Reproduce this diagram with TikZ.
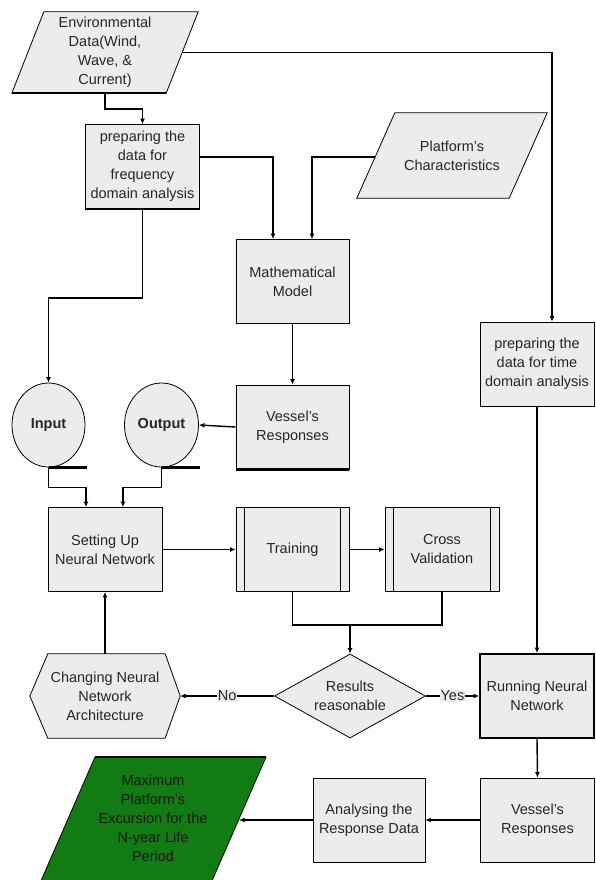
\documentclass[tikz,border=0pt]{standalone}
\usepackage{fontspec}
\setmainfont{Liberation Sans}
\usetikzlibrary{shapes.geometric,arrows.meta,calc,backgrounds}
\definecolor{boxgray}{HTML}{ECECEC}
\definecolor{paragreen}{HTML}{137B13}
\begin{document}
\begin{tikzpicture}[x=1pt,y=-1pt,
  txt/.style={font=\fontsize{14.5}{19}\selectfont, align=center, text=black!85},
  box/.style={txt, draw, line width=0.8pt, fill=boxgray, inner sep=0pt, minimum width=114, minimum height=84},
  holder/.style={txt, inner sep=0pt},
  shapeline/.style={draw, line width=0.8pt, fill=boxgray},
  heavy/.style={line width=2.6pt},
  conn/.style={line width=1.4pt, -{Latex[length=5.5pt,width=5pt]}},
  plain/.style={line width=1.4pt},
  lab/.style={txt, fill=boxgray, inner sep=1pt}]
\useasboundingbox (0,0) rectangle (596,880);
\clip (0,0) rectangle (596,880);
\begin{scope}[on background layer]
\fill[white] (0,0) rectangle (596,880);
\end{scope}

% Environmental data (parallelogram)
\node[holder, minimum width=186, minimum height=81] (env) at (105,52.5) {Environmental\\Data(Wind,\\Wave, \&\\Current)};
\begin{scope}[on background layer]
\draw[shapeline] ($(env.north west)+(32,0)$) -- (env.north east) -- ($(env.south east)+(-32,0)$) -- (env.south west) -- cycle;
\end{scope}
\draw[heavy] (env.south west) -- ($(env.south east)+(-32,0)$);

% preparing frequency
\node[box] (prepF) at (142.5,166.5) {preparing the\\data for\\frequency\\domain analysis};
\draw[heavy] (prepF.south west) -- (prepF.south east);

% Platform's characteristics
\node[holder, minimum width=190, minimum height=85] (plat) at (452,155.5) {Platform's\\Characteristics};
\begin{scope}[on background layer]
\draw[shapeline] ($(plat.north west)+(38,0)$) -- (plat.north east) -- ($(plat.south east)+(-38,0)$) -- (plat.south west) -- cycle;
\end{scope}

% Mathematical model
\node[box, minimum width=113] (math) at (292.5,281.5) {Mathematical\\Model};
% Vessel's responses 1
\node[box, minimum width=113] (ves1) at (292.5,427) {Vessel's\\Responses};
\draw[heavy] (ves1.south west) -- (ves1.south east);

% preparing time
\node[box] (prepT) at (537,364) {preparing the\\data for time\\domain analysis};

% Input / Output tapes
\node[txt, ellipse, shapeline, inner sep=0pt, minimum width=73, minimum height=84] (in) at (48.5,425) {\bfseries Input};
\draw[heavy] (in.south) -- ++(38,0);
\node[txt, ellipse, shapeline, inner sep=0pt, minimum width=74, minimum height=84] (out) at (161.5,425) {\bfseries Output};
\draw[heavy] (out.south) -- ++(38,0);

% Setting up, training, cross validation
\node[box] (setup) at (105,549.5) {Setting Up\\Neural Network};
\node[box, minimum width=113] (train) at (292.5,549.5) {Training};
\draw[line width=0.8pt] ($(train.north west)+(9,0)$) -- ($(train.south west)+(9,0)$);
\draw[line width=0.8pt] ($(train.north east)+(-9,0)$) -- ($(train.south east)+(-9,0)$);
\node[box] (cross) at (442,549.5) {Cross\\Validation};
\draw[line width=0.8pt] ($(cross.north west)+(9,0)$) -- ($(cross.south west)+(9,0)$);
\draw[line width=0.8pt] ($(cross.north east)+(-9,0)$) -- ($(cross.south east)+(-9,0)$);

% Decision
\node[diamond, shapeline, inner sep=0pt, minimum width=151, minimum height=84] (dec) at (350,696) {};
\node[holder] (decl) at (dec.center) {Results\\reasonable};

% Hexagon
\node[holder, minimum width=150, minimum height=84] (hex) at (105,696) {Changing Neural\\Network\\Architecture};
\begin{scope}[on background layer]
\draw[shapeline] ($(hex.north west)+(18,0)$) -- ($(hex.north east)+(-15,0)$) -- (hex.east) -- ($(hex.south east)+(-15,0)$) -- ($(hex.south west)+(18,0)$) -- (hex.west) -- cycle;
\end{scope}

% Running neural network
\node[box, line width=2pt] (run) at (537,696) {Running Neural\\Network};

% Vessel's responses 2, analysing
\node[box] (ves2) at (537.5,820) {Vessel's\\Responses};
\node[box, minimum width=112] (ana) at (369,820) {Analysing the\\Response Data};

% Green result parallelogram
\fill[paragreen] (95,757) -- (266,757) -- (208,890) -- (37,890) -- cycle;
\draw[line width=0.8pt] (266,757) -- (208,890) (95,757) -- (37,890);
\draw[heavy] (95,757) -- (266,757);
\node[holder, text=black!90, minimum width=180] (res) at (153,818.5) {Maximum\\Platform's\\Excursion for the\\N-year Life\\Period};
\coordinate (resR) at (239,820);

% Connectors
\draw[conn] (env.south) -- ++(0,16) -| (prepF.north);
\draw[conn] ($(env.east)+(-16,0)$) -| ($(prepT.north)+(15,0)$);
\draw[conn] ($(prepF.east)+(0,-9.5)$) -| ($(math.north)+(-19.5,0)$);
\draw[conn] ($(plat.west)+(18,1.5)$) -| ($(math.north)+(19.5,0)$);
\draw[conn] (math.south) -- (ves1.north);
\draw[conn] (ves1.west) -- (out.east);
\draw[conn] (prepF.south) -- ++(0,89) -| (in.north);
\draw[conn] (in.south) -- ++(0,20) -| ($(setup.north)+(-19,0)$);
\draw[conn] (out.south) -- ++(0,20) -| ($(setup.north)+(18,0)$);
\draw[conn] (setup.east) -- (train.west);
\draw[conn] (train.east) -- (cross.west);
\coordinate (j) at (350,625);
\draw[plain] (train.south) |- (j) -| (cross.south);
\draw[conn] (j) -- (dec.north);
\draw[conn] (dec.west) -- (hex.east) node[midway, lab] (no) {No};
\draw[conn] (dec.east) -- (run.west) node[midway, lab] (yes) {Yes};
\draw[conn] (hex.north) -- (setup.south);
\draw[conn] (prepT.south) -- (run.north);
\draw[conn] (run.south) -- (ves2.north);
\draw[conn] (ves2.west) -- (ana.east);
\draw[conn] (ana.west) -- (resR |- ana.west);
\end{tikzpicture}
\end{document}
